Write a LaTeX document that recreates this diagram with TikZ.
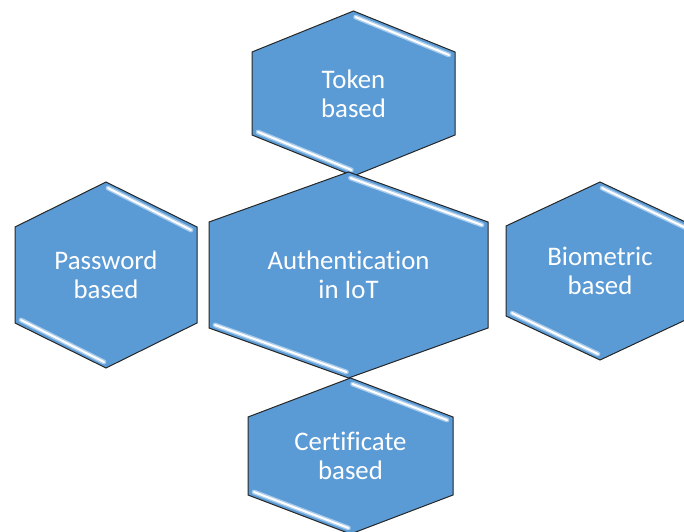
\documentclass[tikz,border=0pt]{standalone}
\usepackage{fontspec}
\setmainfont{Carlito}[Ligatures=NoCommon]
\definecolor{cellblue}{HTML}{5B9BD5}
\definecolor{cellglow}{HTML}{B7D5F2}
\definecolor{celledge}{HTML}{262626}
\tikzset{
  cellface/.style={fill=cellblue, draw=celledge, line width=1pt, line join=miter},
  cellglowline/.style={draw=cellglow, line width=4.8pt, line cap=round, opacity=0.85},
  cellshine/.style={draw=white, line width=2pt, line cap=round},
  celltext/.style={text=white, align=center, inner sep=0pt,
    font=\fontsize{26.8}{29}\selectfont}
}
% hexagon with pointed top/bottom: name, cx, cy, half width, half height, corner drop, label
\newcommand\hexcell[7]{%
  \path[cellface] ({#2},{#3+#5}) -- ({#2+#4},{#3+#5-#6}) -- ({#2+#4},{#3-#5+#6})
    -- ({#2},{#3-#5}) -- ({#2-#4},{#3-#5+#6}) -- ({#2-#4},{#3+#5-#6}) -- cycle;
  \foreach \st in {cellglowline,cellshine}{
    \path[\st] ({#2+2},{#3+#5-6}) -- ({#2+#4-6},{#3+#5-#6-3});
    \path[\st] ({#2-#4+6},{#3-#5+#6+3}) -- ({#2-2},{#3-#5+6});
  }
  \node[celltext] (#1) at ({#2},{#3}) {#7};
}
\begin{document}
\begin{tikzpicture}[x=1pt,y=1pt]
  \useasboundingbox (0,0) rectangle (684,531);
  \clip (0,0) rectangle (684,531);
  \fill[white] (0,0) rectangle (684,531);
  \hexcell{token}{353.5}{437.5}{101.5}{82.5}{41}{Token\\based}
  \hexcell{auth}{348.5}{256}{139.5}{103}{50}{Authentication\\in IoT}
  \hexcell{cert}{350.5}{75}{102.5}{78}{39}{Certificate\\based}
  \hexcell{pwd}{106}{256}{91}{93}{45}{Password\\based}
  \hexcell{bio}{600}{260}{94}{89}{44}{Biometric\\based}
\end{tikzpicture}
\end{document}
